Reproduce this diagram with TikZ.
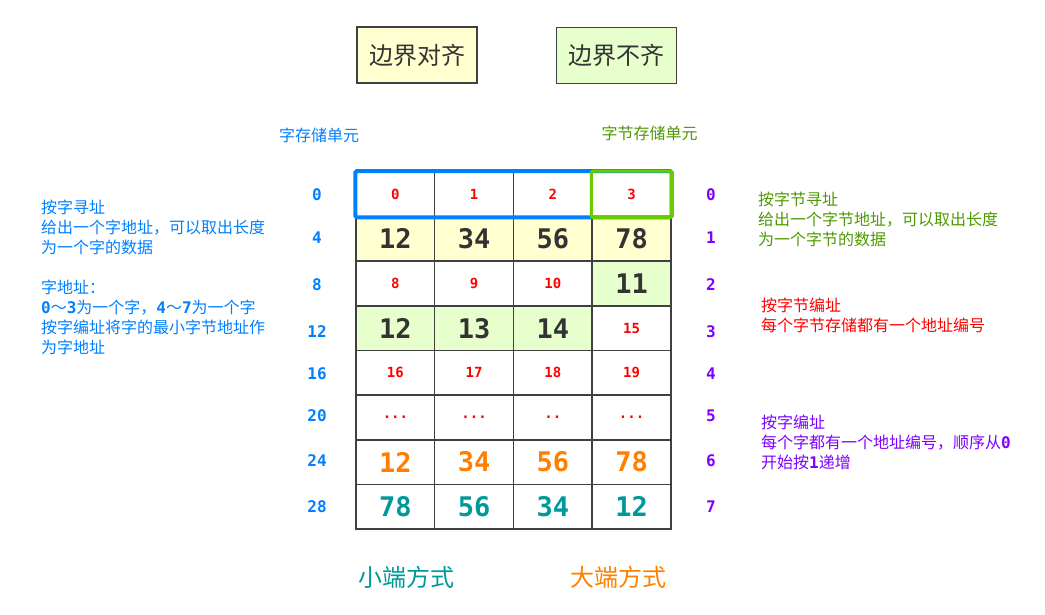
\documentclass[tikz,border=0pt]{standalone}
\usepackage{fontspec}
\usepackage{xcolor}
\usepackage{tikz}
\usetikzlibrary{positioning}
\setmainfont{Noto Sans CJK SC}
\newfontfamily\mono{DejaVu Sans Mono}
\newcommand\digs[1]{{\mono\bfseries #1}}
\definecolor{ink}{RGB}{51,51,51}
\definecolor{gridline}{RGB}{64,64,64}
\definecolor{wordblue}{RGB}{0,127,255}
\definecolor{bytegreen}{RGB}{77,153,0}
\definecolor{framegreen}{RGB}{102,204,0}
\definecolor{addrred}{RGB}{255,0,0}
\definecolor{idxpurple}{RGB}{127,0,255}
\definecolor{bigorange}{RGB}{255,128,0}
\definecolor{littleteal}{RGB}{0,153,153}
\definecolor{yfill}{RGB}{255,255,208}
\definecolor{gfill}{RGB}{230,255,204}
\tikzset{
  cell/.style     ={rectangle, draw=gridline, line width=1.5pt, fill=white,
                    minimum width=78.75pt, minimum height=44.625pt, inner sep=0pt},
  ycell/.style    ={cell, fill=yfill},
  gcell/.style    ={cell, fill=gfill},
  smallnum/.style ={font=\mono\bfseries\fontsize{14}{14}\selectfont, text=addrred},
  bignum/.style   ={font=\mono\bfseries\fontsize{27}{27}\selectfont, text=ink},
  titlebox/.style ={rectangle, draw=gridline, line width=1.5pt, minimum width=120pt,
                    minimum height=56pt, font=\fontsize{24}{24}\selectfont, text=ink},
  unitlabel/.style={font=\fontsize{16}{16}\selectfont, inner sep=0pt},
  addr/.style     ={font=\mono\bfseries\fontsize{16}{16}\selectfont, text=wordblue},
  idx/.style      ={font=\mono\bfseries\fontsize{16}{16}\selectfont, text=idxpurple},
  note/.style     ={font=\fontsize{16}{20}\selectfont, align=left, anchor=north west, inner sep=0pt},
  endlabel/.style ={font=\fontsize{24}{24}\selectfont, inner sep=0pt},
  wordframe/.style={draw=wordblue, line width=4pt, rounded corners=1.5pt},
  byteframe/.style={draw=framegreen, line width=3pt, rounded corners=1pt},
}
\begin{document}
\begin{tikzpicture}[x=1pt, y=-1pt]
\useasboundingbox (0,0) rectangle (1045,614);
% titles
\node[titlebox, fill=yfill] (aligned) at (417,55) {边界对齐};
\node[titlebox, fill=gfill] (unaligned) at (616.5,55.5) {边界不齐};
\node[unitlabel, text=wordblue] (wordunit) at (319,135) {字存储单元};
\node[unitlabel, text=bytegreen] (byteunit) at (649.5,133.5) {字节存储单元};
% memory cells
\node[cell, smallnum] (r0c0) at (395.4,194.3) {0};
\node[cell, smallnum] (r0c1) at (474.1,194.3) {1};
\node[cell, smallnum] (r0c2) at (552.9,194.3) {2};
\node[cell, smallnum] (r0c3) at (631.6,194.3) {3};
\node[ycell, bignum] (r1c0) at (395.4,238.9) {12};
\node[ycell, bignum] (r1c1) at (474.1,238.9) {34};
\node[ycell, bignum] (r1c2) at (552.9,238.9) {56};
\node[ycell, bignum] (r1c3) at (631.6,238.9) {78};
\node[cell, smallnum] (r2c0) at (395.4,283.6) {8};
\node[cell, smallnum] (r2c1) at (474.1,283.6) {9};
\node[cell, smallnum] (r2c2) at (552.9,283.6) {10};
\node[gcell, bignum] (r2c3) at (631.6,283.6) {11};
\node[gcell, bignum] (r3c0) at (395.4,328.2) {12};
\node[gcell, bignum] (r3c1) at (474.1,328.2) {13};
\node[gcell, bignum] (r3c2) at (552.9,328.2) {14};
\node[cell, smallnum] (r3c3) at (631.6,328.2) {15};
\node[cell, smallnum] (r4c0) at (395.4,372.8) {16};
\node[cell, smallnum] (r4c1) at (474.1,372.8) {17};
\node[cell, smallnum] (r4c2) at (552.9,372.8) {18};
\node[cell, smallnum] (r4c3) at (631.6,372.8) {19};
\node[cell, smallnum] (r5c0) at (395.4,417.4) {...};
\node[cell, smallnum] (r5c1) at (474.1,417.4) {...};
\node[cell, smallnum] (r5c2) at (552.9,417.4) {..};
\node[cell, smallnum] (r5c3) at (631.6,417.4) {...};
\node[cell, bignum, text=bigorange] (r6c0) at (395.4,462.1) {12};
\node[cell, bignum, text=bigorange] (r6c1) at (474.1,462.1) {34};
\node[cell, bignum, text=bigorange] (r6c2) at (552.9,462.1) {56};
\node[cell, bignum, text=bigorange] (r6c3) at (631.6,462.1) {78};
\node[cell, bignum, text=littleteal] (r7c0) at (395.4,506.7) {78};
\node[cell, bignum, text=littleteal] (r7c1) at (474.1,506.7) {56};
\node[cell, bignum, text=littleteal] (r7c2) at (552.9,506.7) {34};
\node[cell, bignum, text=littleteal] (r7c3) at (631.6,506.7) {12};
% word and byte frames
\draw[wordframe] (r0c0.north west) rectangle (r0c3.south east);
\draw[byteframe] (r0c3.north west) rectangle (r0c3.south east);
% word addresses
\node[addr] (w0) at (317,195) {0};
\node[addr] (w1) at (317,238) {4};
\node[addr] (w2) at (317,285) {8};
\node[addr] (w3) at (317,332) {12};
\node[addr] (w4) at (317,374) {16};
\node[addr] (w5) at (317,416) {20};
\node[addr] (w6) at (317,461) {24};
\node[addr] (w7) at (317,507) {28};
% word numbers
\node[idx] (n0) at (711,195) {0};
\node[idx] (n1) at (711,238) {1};
\node[idx] (n2) at (711,285) {2};
\node[idx] (n3) at (711,332) {3};
\node[idx] (n4) at (711,374) {4};
\node[idx] (n5) at (711,416) {5};
\node[idx] (n6) at (711,461) {6};
\node[idx] (n7) at (711,507) {7};
% notes
\node[note, text=wordblue] (wordnote) at (41,200)
  {按字寻址\\给出一个字地址，可以取出长度\\为一个字的数据\\[20pt]字地址：\\
   \digs{0}～\digs{3}为一个字，\digs{4}～\digs{7}为一个字\\按字编址将字的最小字节地址作\\为字地址};
\node[note, text=bytegreen] (bytenote) at (758,192)
  {按字节寻址\\给出一个字节地址，可以取出长度\\为一个字节的数据};
\node[note, text=addrred] (bytenum) at (761,298)
  {按字节编址\\每个字节存储都有一个地址编号};
\node[note, text=idxpurple] (wordnum) at (761,415)
  {按字编址\\每个字都有一个地址编号，顺序从\digs{0}\\开始按\digs{1}递增};
% byte orders
\node[endlabel, text=littleteal] (little) at (406.5,577) {小端方式};
\node[endlabel, text=bigorange] (big) at (618,577) {大端方式};
\end{tikzpicture}
\end{document}
